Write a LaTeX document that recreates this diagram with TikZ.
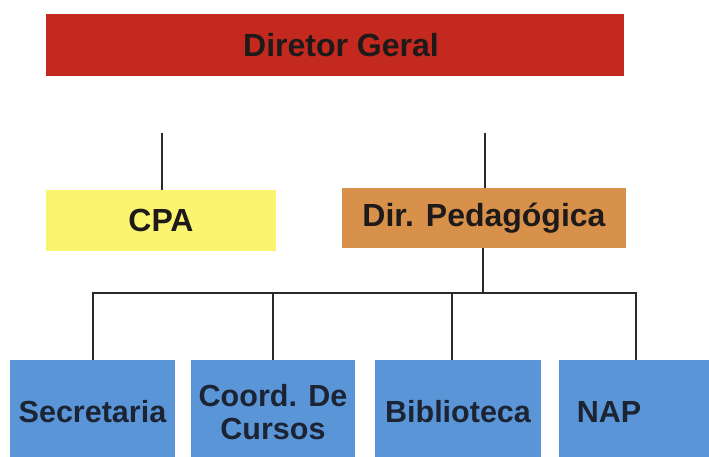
\documentclass[tikz,border=0pt]{standalone}
\usepackage{fontspec}
\setmainfont{Liberation Sans}
\definecolor{dirred}{HTML}{C3291F}
\definecolor{cpayellow}{HTML}{FAF46E}
\definecolor{pedorange}{HTML}{D8914B}
\definecolor{unitblue}{HTML}{5A95D8}
\definecolor{txtdark}{HTML}{1E1A1A}
\definecolor{txtblue}{HTML}{1C2433}
\definecolor{linegray}{HTML}{2A2A2A}
\begin{document}
\begin{tikzpicture}[x=1pt,y=-1pt,
  orgbox/.style={rectangle, draw=none, inner sep=0pt, align=center,
    font=\bfseries\fontsize{32}{36}\selectfont, text=txtdark},
  unitbox/.style={orgbox, fill=unitblue, text=txtblue,
    font=\bfseries\fontsize{30.5}{33}\selectfont, minimum height=104pt},
  conn/.style={draw=linegray, line width=2pt}]
\useasboundingbox (0,0) rectangle (709,457);
\fill[white] (0,0) rectangle (709,457);

\node[orgbox, fill=dirred, minimum width=578pt, minimum height=62pt] (dir) at (335,45) {\hspace*{12pt}Diretor Geral};
\node[orgbox, fill=cpayellow, minimum width=230pt, minimum height=61pt] (cpa) at (161,220.5) {CPA};
\node[orgbox, fill=pedorange, minimum width=284pt, minimum height=60pt] (ped) at (484,218) {Dir. Pedagógica};

\node[unitbox, minimum width=165pt] (sec) at (92.5,412) {Secretaria};
\node[unitbox, minimum width=164pt] (coord) at (273,412) {Coord. De\\Cursos};
\node[unitbox, minimum width=166pt] (bib) at (458,412) {Biblioteca};
\node[unitbox, minimum width=161pt] (nap) at (639.5,412) {};
\node[orgbox, text=txtblue, font=\bfseries\fontsize{30.5}{33}\selectfont] (naptext) at (609,412) {NAP};

\coordinate (topl) at (162,133);
\coordinate (topr) at (485,133);
\draw[conn] (topl) -- (topl |- cpa.north);
\draw[conn] (topr) -- (topr |- ped.north);

\coordinate (bus0) at (93,293);
\coordinate (bus1) at (273,293);
\coordinate (bus2) at (452,293);
\coordinate (bus3) at (636,293);
\coordinate (pedb) at (483,293);
\draw[conn] (ped.south -| pedb) -- (pedb);
\draw[conn, line cap=rect] (bus0) -- (bus3);
\draw[conn] (bus0) -- (bus0 |- sec.north);
\draw[conn] (bus1) -- (bus1 |- coord.north);
\draw[conn] (bus2) -- (bus2 |- bib.north);
\draw[conn] (bus3) -- (bus3 |- nap.north);
\end{tikzpicture}
\end{document}
